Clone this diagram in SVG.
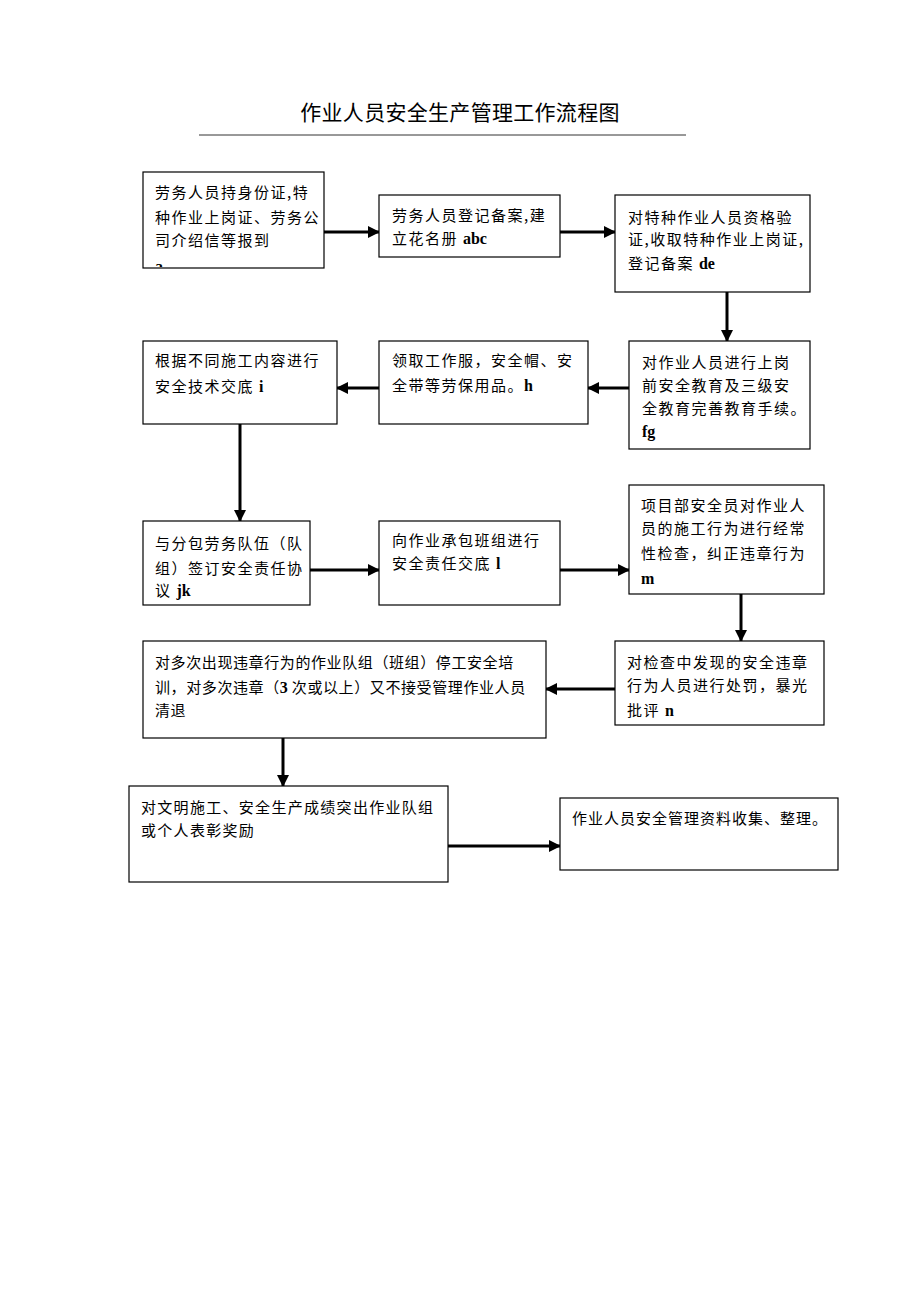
<svg xmlns="http://www.w3.org/2000/svg" width="920" height="1302" viewBox="0 0 920 1302">
<style>
.box{fill:#fff;stroke:#000;stroke-width:1.2}
.t{font-family:"Noto Sans CJK SC","Noto Sans CJK JP",sans-serif;font-size:15px;letter-spacing:1.5px;fill:#000}
.l{font-family:"Liberation Serif",serif;font-weight:bold;letter-spacing:0;font-size:16px}
.title{font-family:"Noto Sans CJK SC",sans-serif;font-size:21px;fill:#000;letter-spacing:0.3px}
.c{stroke:#000;stroke-width:3;fill:none;marker-end:url(#ah)}
</style>
<defs>
<marker id="ah" markerUnits="userSpaceOnUse" markerWidth="12" markerHeight="12" refX="11" refY="6" orient="auto">
<path d="M0,0 L12,6 L0,12 z" fill="#000"/>
</marker>
<clipPath id="cb1"><rect x="143" y="172" width="181" height="95"/></clipPath>
</defs>
<rect width="920" height="1302" fill="#fff"/>
<g id="title">
<text class="title" x="460" y="120" text-anchor="middle">作业人员安全生产管理工作流程图</text>
<line x1="199" y1="135" x2="686" y2="135" stroke="#333" stroke-width="1"/>
</g>
<g id="connectors">
<line class="c" x1="324" y1="232" x2="379" y2="232"/>
<line class="c" x1="560" y1="232" x2="615" y2="232"/>
<line class="c" x1="727" y1="292" x2="727" y2="341"/>
<line class="c" x1="629" y1="388" x2="588" y2="388"/>
<line class="c" x1="379" y1="388" x2="337" y2="388"/>
<line class="c" x1="240" y1="424" x2="240" y2="521"/>
<line class="c" x1="310" y1="570" x2="379" y2="570"/>
<line class="c" x1="560" y1="570" x2="629" y2="570"/>
<line class="c" x1="741" y1="594" x2="741" y2="641"/>
<line class="c" x1="615" y1="689" x2="546" y2="689"/>
<line class="c" x1="283" y1="738" x2="283" y2="786"/>
<line class="c" x1="448" y1="846" x2="560" y2="846"/>
</g>
<g id="n1">
<rect class="box" x="143" y="172" width="181" height="96"/>
<text class="t" x="155" y="198">劳务人员持身份证,特</text>
<text class="t" x="155" y="223">种作业上岗证、劳务公</text>
<text class="t" x="155" y="246">司介绍信等报到</text>
<text class="t" x="155" y="272" clip-path="url(#cb1)"><tspan class="l">a</tspan></text>
</g>
<g id="n2">
<rect class="box" x="379" y="195" width="181" height="62"/>
<text class="t" x="392" y="221">劳务人员登记备案,建</text>
<text class="t" x="392" y="244">立花名册 <tspan class="l">abc</tspan></text>
</g>
<g id="n3">
<rect class="box" x="615" y="195" width="195" height="97"/>
<text class="t" x="628" y="223">对特种作业人员资格验</text>
<text class="t" x="628" y="245">证,收取特种作业上岗证,</text>
<text class="t" x="628" y="269">登记备案 <tspan class="l">de</tspan></text>
</g>
<g id="n4">
<rect class="box" x="143" y="341" width="194" height="83"/>
<text class="t" x="155" y="366">根据不同施工内容进行</text>
<text class="t" x="155" y="392">安全技术交底 <tspan class="l">i</tspan></text>
</g>
<g id="n5">
<rect class="box" x="379" y="341" width="209" height="83"/>
<text class="t" x="392" y="366">领取工作服，安全帽、安</text>
<text class="t" x="392" y="391">全带等劳保用品。<tspan class="l">h</tspan></text>
</g>
<g id="n6">
<rect class="box" x="629" y="341" width="181" height="108"/>
<text class="t" x="642" y="368">对作业人员进行上岗</text>
<text class="t" x="642" y="391">前安全教育及三级安</text>
<text class="t" x="642" y="414">全教育完善教育手续。</text>
<text class="t" x="642" y="437"><tspan class="l">fg</tspan></text>
</g>
<g id="n7">
<rect class="box" x="143" y="521" width="167" height="84"/>
<text class="t" x="155" y="549">与分包劳务队伍（队</text>
<text class="t" x="155" y="574">组）签订安全责任协</text>
<text class="t" x="155" y="596">议 <tspan class="l">jk</tspan></text>
</g>
<g id="n8">
<rect class="box" x="379" y="521" width="181" height="84"/>
<text class="t" x="392" y="546">向作业承包班组进行</text>
<text class="t" x="392" y="569">安全责任交底 <tspan class="l">l</tspan></text>
</g>
<g id="n9">
<rect class="box" x="629" y="485" width="195" height="109"/>
<text class="t" x="641" y="511">项目部安全员对作业人</text>
<text class="t" x="641" y="534">员的施工行为进行经常</text>
<text class="t" x="641" y="559">性检查，纠正违章行为</text>
<text class="t" x="641" y="584"><tspan class="l">m</tspan></text>
</g>
<g id="n10">
<rect class="box" x="143" y="641" width="403" height="97"/>
<text class="t" x="155" y="668" style="letter-spacing:0.6px">对多次出现违章行为的作业队组（班组）停工安全培</text>
<text class="t" x="155" y="693" style="letter-spacing:0.6px">训，对多次违章（<tspan class="l">3 </tspan>次或以上）又不接受管理作业人员</text>
<text class="t" x="155" y="716" style="letter-spacing:0.6px">清退</text>
</g>
<g id="n11">
<rect class="box" x="615" y="641" width="209" height="84"/>
<text class="t" x="627" y="668">对检查中发现的安全违章</text>
<text class="t" x="627" y="691">行为人员进行处罚，暴光</text>
<text class="t" x="627" y="716">批评 <tspan class="l">n</tspan></text>
</g>
<g id="n12">
<rect class="box" x="129" y="786" width="319" height="96"/>
<text class="t" x="141" y="813" style="letter-spacing:1.3px">对文明施工、安全生产成绩突出作业队组</text>
<text class="t" x="141" y="836" style="letter-spacing:1.3px">或个人表彰奖励</text>
</g>
<g id="n13">
<rect class="box" x="560" y="798" width="278" height="72"/>
<text class="t" x="572" y="824" style="letter-spacing:1px">作业人员安全管理资料收集、整理。</text>
</g>
</svg>
